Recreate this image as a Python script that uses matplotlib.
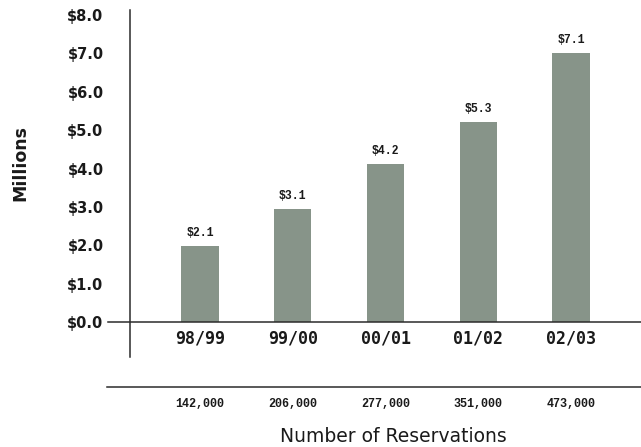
import matplotlib
matplotlib.use("Agg")
import matplotlib.pyplot as plt
import matplotlib.transforms as mtransforms
from matplotlib.lines import Line2D

# data
seasons = ["98/99", "99/00", "00/01", "01/02", "02/03"]
revenue = [1.98, 2.94, 4.11, 5.21, 7.01]          # bar heights, $ millions
revenue_labels = ["$2.1", "$3.1", "$4.2", "$5.3", "$7.1"]
reservations = ["142,000", "206,000", "277,000", "351,000", "473,000"]
yticks = [0, 1, 2, 3, 4, 5, 6, 7, 8]

bar_color = "#879489"
line_color = "#2b2b2b"
mono = "Liberation Mono"

fig = plt.figure(figsize=(6.41, 4.47), dpi=100)
ax = fig.add_axes([130 / 641, 1 - 357 / 447, 511 / 641, 347 / 447])

x = list(range(len(seasons)))
ax.bar(x, revenue, width=0.40, color=bar_color, zorder=2)

# value labels on top of bars
for xi, v, lab in zip(x, revenue, revenue_labels):
    ax.annotate(lab, (xi, v), xytext=(0, 5), textcoords="offset points",
                ha="center", va="bottom", fontsize=8.3, fontweight="bold",
                family=mono, color="#1a1a1a")

# season labels just under the zero line
for xi, s in zip(x, seasons):
    ax.text(xi, -0.44, s, ha="center", va="center", fontsize=12,
            fontweight="bold", family="DejaVu Sans Mono", color="#1a1a1a")

ax.set_xlim(-0.755, 4.755)
ax.set_ylim(-0.91, 8.13)
ax.set_xticks([])
ax.set_yticks(yticks)
ax.set_yticklabels([f"${t:.1f}" for t in yticks], fontsize=10.5,
                   fontweight="bold", color="#1a1a1a")
ax.tick_params(axis="y", length=0, pad=19)

for side in ["top", "right", "bottom"]:
    ax.spines[side].set_visible(False)
ax.spines["left"].set_color(line_color)
ax.spines["left"].set_linewidth(1.1)

# zero line, running a bit left of the axis
ax.axhline(0, xmin=-0.043, xmax=1, color=line_color, lw=1.1, clip_on=False,
           zorder=3)

ax.set_ylabel("Millions", fontsize=12.5, fontweight="bold", color="#1a1a1a")
ax.yaxis.set_label_coords(-0.197, 0.56)

# second rule and the reservation counts
fig.add_artist(Line2D([107 / 641, 1], [1 - 387 / 447, 1 - 387 / 447],
                      transform=fig.transFigure, color=line_color, lw=1.1))
trans = mtransforms.blended_transform_factory(ax.transData, fig.transFigure)
for xi, r in zip(x, reservations):
    ax.text(xi, 1 - 404 / 447, r, transform=trans, ha="center", va="center",
            fontsize=8.5, fontweight="bold", family=mono, color="#1a1a1a")

fig.text(393 / 641, 1 - 436 / 447, "Number of Reservations", ha="center",
         va="center", fontsize=13.5, color="#1a1a1a")

fig.savefig("out.png", dpi=100)
